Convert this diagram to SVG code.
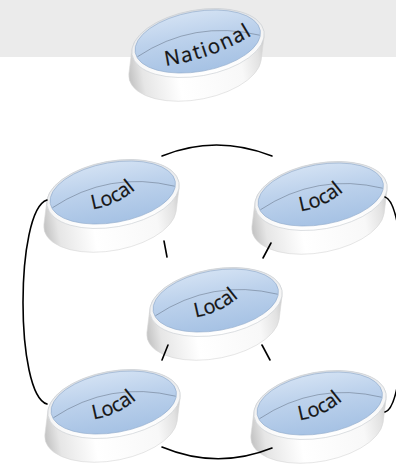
<svg xmlns="http://www.w3.org/2000/svg" xmlns:xlink="http://www.w3.org/1999/xlink" width="396" height="467" viewBox="0 0 396 467">
<style>
.conn{fill:none;stroke:#000;stroke-width:1.6;stroke-linecap:round}
.lbl{font-family:"Open Sans","Liberation Sans",sans-serif;font-size:20px;fill:#151515;stroke:#151515;stroke-width:0.25;text-anchor:middle}
.nat{letter-spacing:1.6px;font-size:20.5px}
</style>
<defs>
<linearGradient id="side" x1="0" y1="0" x2="1" y2="0">
<stop offset="0" stop-color="#c2c2c2"/>
<stop offset="0.1" stop-color="#e6e6e6"/>
<stop offset="0.35" stop-color="#ffffff"/>
<stop offset="0.8" stop-color="#f8f8f8"/>
<stop offset="0.93" stop-color="#e2e2e2"/>
<stop offset="1" stop-color="#c8c8c8"/>
</linearGradient>
<linearGradient id="rim" x1="0" y1="0" x2="0" y2="1">
<stop offset="0" stop-color="#d9dde3"/>
<stop offset="0.5" stop-color="#f4f4f4"/>
<stop offset="1" stop-color="#ffffff"/>
</linearGradient>
<linearGradient id="face" x1="0" y1="0" x2="0" y2="1">
<stop offset="0" stop-color="#d2e1f3"/>
<stop offset="0.4" stop-color="#bdd2ec"/>
<stop offset="1" stop-color="#a6c2e4"/>
</linearGradient>
<path id="arcL" d="M-32.7,18 L-21,15.5 A88 88 0 0 0 23,-5 L31.6,-13.3"/>
<path id="arcN" d="M-42.9,24.4 L-33,23 A227 227 0 0 0 56,-9 L64.5,-14.3"/>
<g id="puck" transform="rotate(-10)">
<path d="M66.24,4.95 L59.12,28.07 A67 33 0 0 1 -73.36,18.17 L-66.24,-4.95 A67 33 0 0 1 66.24,4.95 Z" fill="url(#side)" stroke="#d8d8d8" stroke-width="0.6"/>
<ellipse cx="0" cy="0" rx="67" ry="33" fill="url(#rim)" stroke="#c9cdd2" stroke-width="0.6"/>
<ellipse cx="0" cy="-1.5" rx="63.5" ry="30" fill="url(#face)" stroke="#90abcc" stroke-width="0.6"/>
<path d="M-62,3 Q0,-24 62,3" fill="none" stroke="#3f4a5a" stroke-width="0.7" stroke-opacity="0.5"/>
</g>
</defs>
<rect x="0" y="0" width="396" height="57" fill="#ebebeb"/>
<g id="national" transform="translate(198,43)">
<use xlink:href="#puck"/>
<text class="lbl nat"><textPath xlink:href="#arcN" startOffset="50%">National</textPath></text>
</g>
<g id="local-tl" transform="translate(113,194)">
<use xlink:href="#puck"/>
<text class="lbl"><textPath xlink:href="#arcL" startOffset="50%">Local</textPath></text>
</g>
<g id="local-tr" transform="translate(321,196)">
<use xlink:href="#puck"/>
<text class="lbl"><textPath xlink:href="#arcL" startOffset="50%">Local</textPath></text>
</g>
<g id="local-c" transform="translate(216,302)">
<use xlink:href="#puck"/>
<text class="lbl"><textPath xlink:href="#arcL" startOffset="50%">Local</textPath></text>
</g>
<g id="local-bl" transform="translate(114,404)">
<use xlink:href="#puck"/>
<text class="lbl"><textPath xlink:href="#arcL" startOffset="50%">Local</textPath></text>
</g>
<g id="local-br" transform="translate(320,405)">
<use xlink:href="#puck"/>
<text class="lbl"><textPath xlink:href="#arcL" startOffset="50%">Local</textPath></text>
</g>
<g id="connectors">
<path class="conn" d="M162,156 Q216,134 272,156"/>
<path class="conn" d="M47,200 C15,210 15,395 47,404"/>
<path class="conn" d="M385,197 C410,205 410,405 385,412"/>
<path class="conn" d="M162,447 Q217,470 272,448"/>
<path class="conn" d="M164,241 L167,257"/>
<path class="conn" d="M271,243 L263,258"/>
<path class="conn" d="M168,345 L162,360"/>
<path class="conn" d="M262,345 L270,360"/>
</g>
</svg>
